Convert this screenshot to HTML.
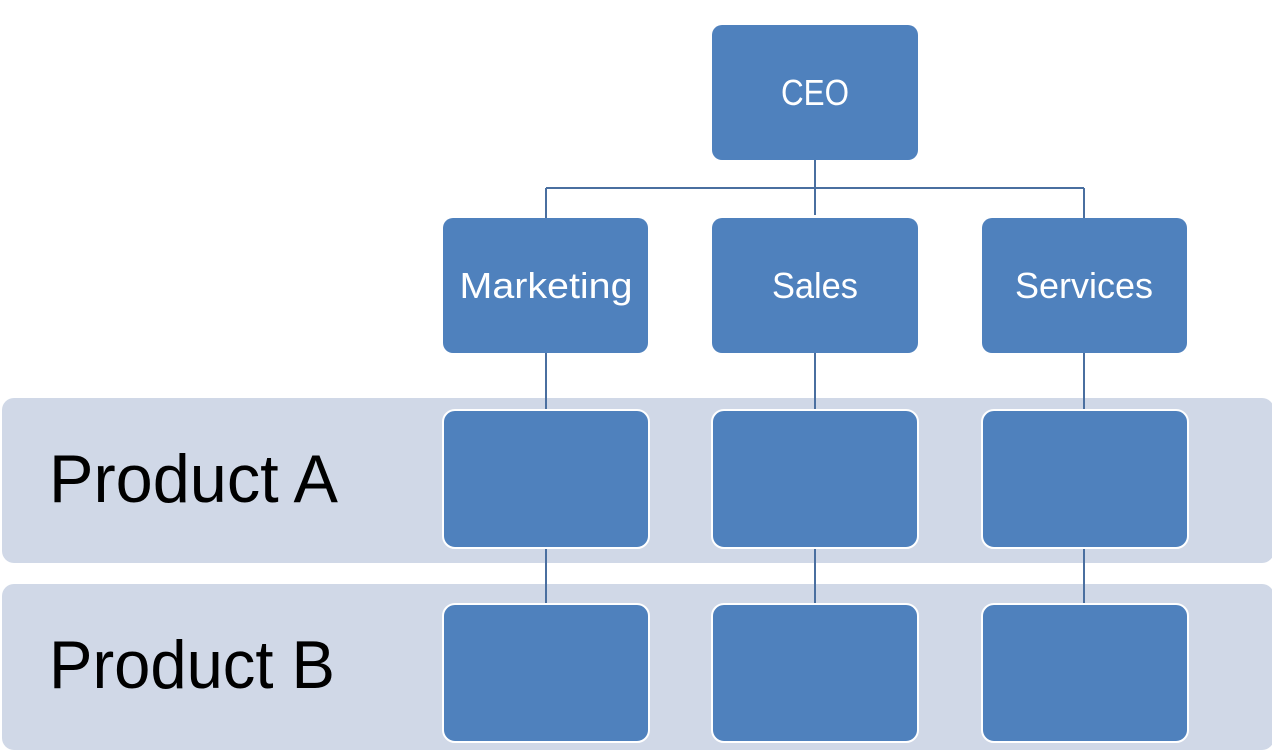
<!DOCTYPE html>
<html><head><meta charset="utf-8"><style>html,body{margin:0;padding:0;background:#fff}svg{display:block}</style></head>
<body>
<svg width="1272" height="752" viewBox="0 0 1272 752" xmlns="http://www.w3.org/2000/svg" font-family="Liberation Sans, sans-serif">
<rect x="2" y="398" width="1272" height="165" rx="12" fill="#d0d8e7"/>
<rect x="2" y="584" width="1272" height="166" rx="12" fill="#d0d8e7"/>
<g stroke="#4a6fa0" stroke-width="2" fill="none">
<path d="M815 160V215M546 188H1084M546 188V218M1084 188V218"/>
<path d="M546 353V606M815 353V606M1084 353V606"/>
</g>
<g fill="#4f81bd">
<rect x="712" y="25" width="206" height="135" rx="10"/>
<rect x="443" y="218" width="205" height="135" rx="10"/>
<rect x="712" y="218" width="206" height="135" rx="10"/>
<rect x="982" y="218" width="205" height="135" rx="10"/>
</g>
<g fill="#4f81bd" stroke="#fff" stroke-width="2">
<rect x="443" y="410" width="206" height="138" rx="12"/>
<rect x="712" y="410" width="206" height="138" rx="12"/>
<rect x="982" y="410" width="206" height="138" rx="12"/>
<rect x="443" y="604" width="206" height="138" rx="12"/>
<rect x="712" y="604" width="206" height="138" rx="12"/>
<rect x="982" y="604" width="206" height="138" rx="12"/>
</g>
<g fill="#fff" font-size="36" text-anchor="middle">
<text x="815" y="105" textLength="68" lengthAdjust="spacingAndGlyphs">CEO</text>
<text x="546" y="298" textLength="173" lengthAdjust="spacingAndGlyphs">Marketing</text>
<text x="815" y="298" textLength="86" lengthAdjust="spacingAndGlyphs">Sales</text>
<text x="1084" y="298" textLength="138" lengthAdjust="spacingAndGlyphs">Services</text>
</g>
<g fill="#000" font-size="68">
<text x="49" y="502" textLength="289" lengthAdjust="spacingAndGlyphs">Product A</text>
<text x="49" y="688" textLength="286" lengthAdjust="spacingAndGlyphs">Product B</text>
</g>
</svg>
</body></html>
